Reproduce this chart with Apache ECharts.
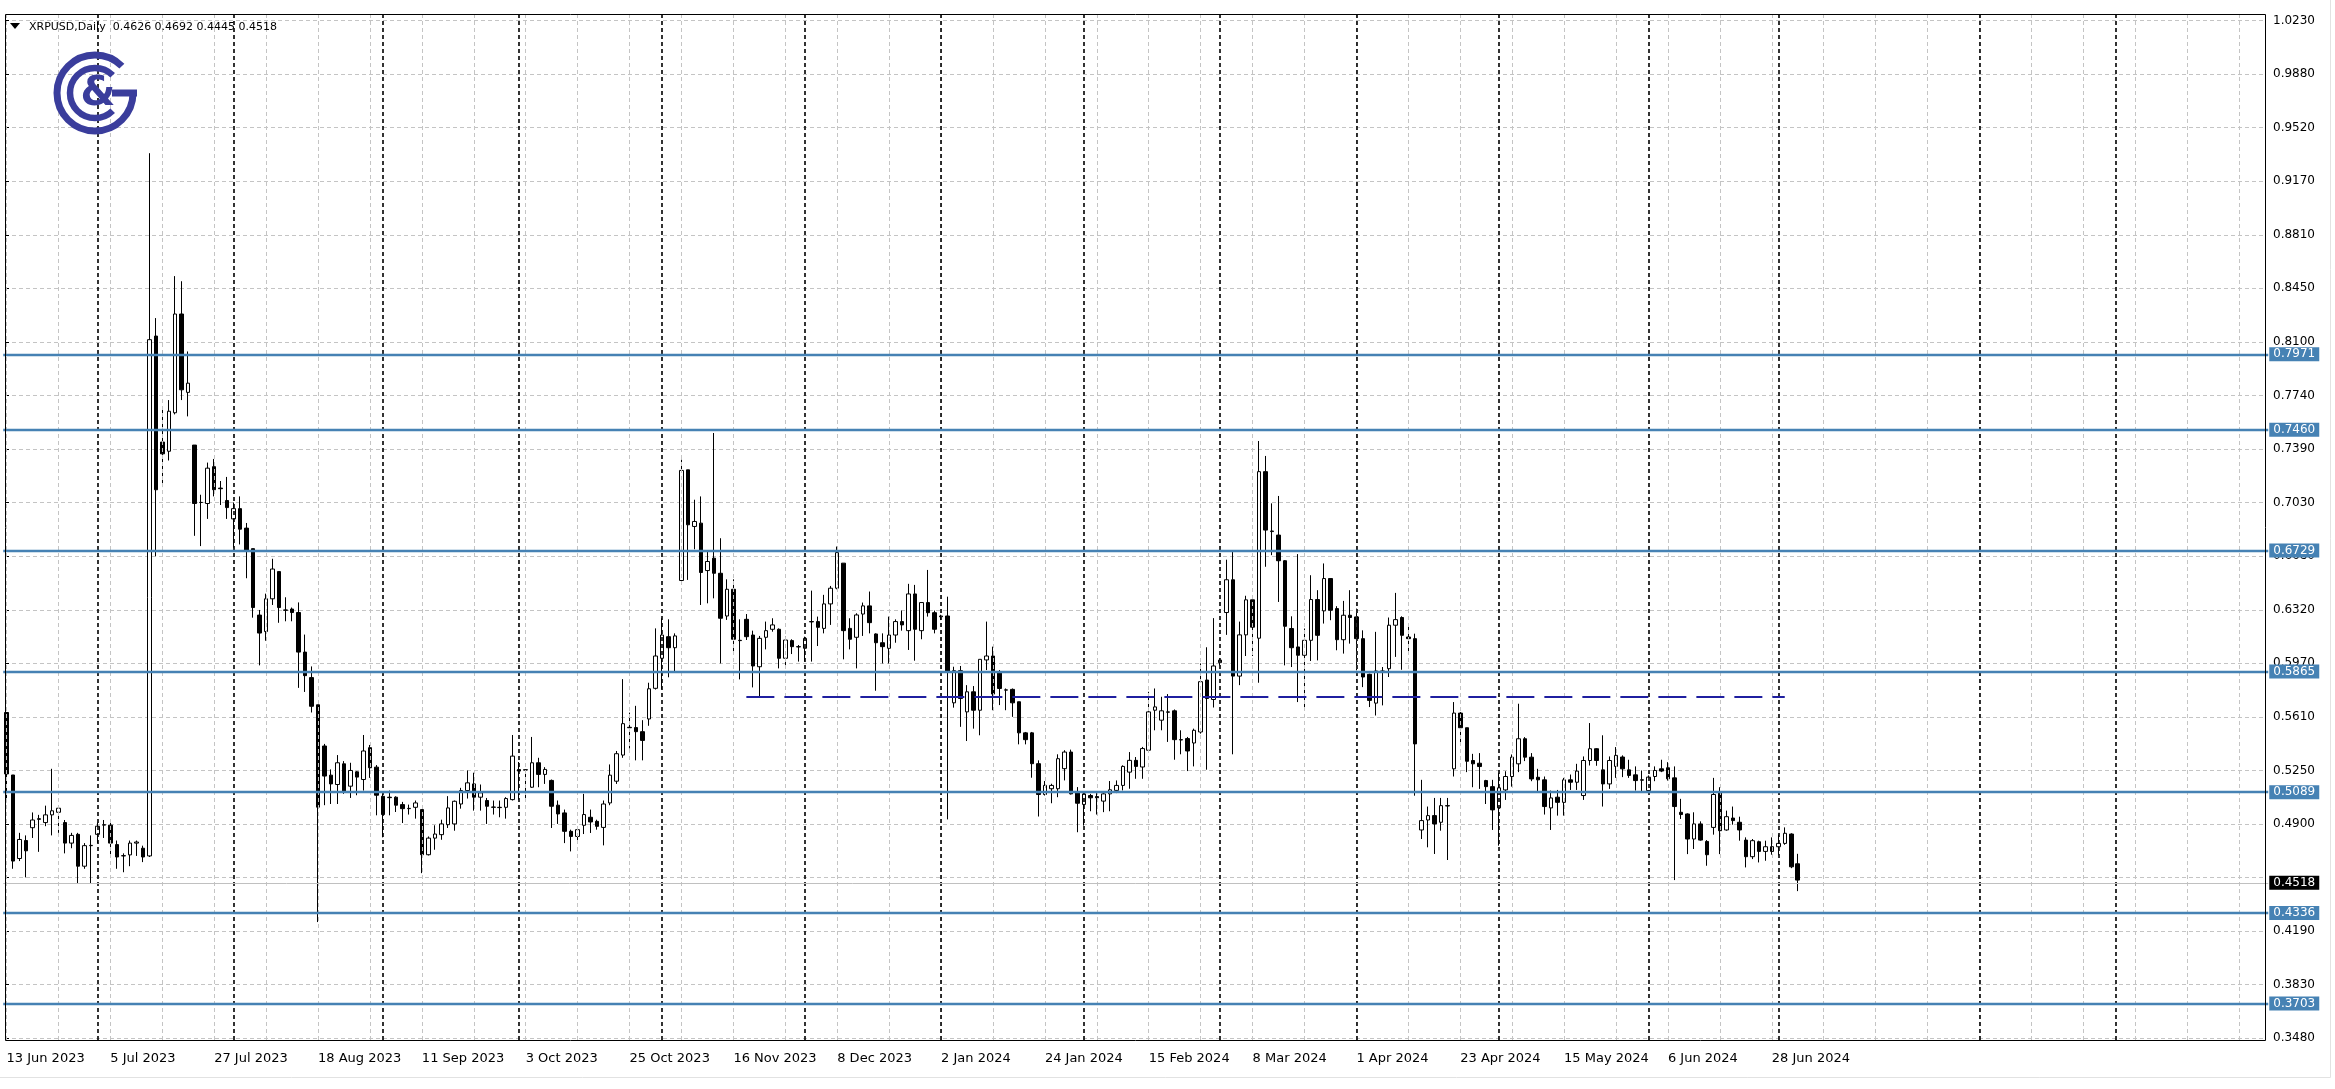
<!DOCTYPE html>
<html><head><meta charset="utf-8">
<script src="https://cdn.jsdelivr.net/npm/echarts@6/dist/echarts.min.js"></script>
<style>html,body{margin:0;padding:0;background:#fff;overflow:hidden}#c{width:2335px;height:1089px}</style>
</head><body><div id="c"></div>
<script>
// ---------- DATA ----------
const symbolName = 'XRPUSD,Daily';
const openP = [0.5628,0.5214,0.4661,0.4780,0.4865,0.4920,0.4899,0.4950,0.4967,0.4899,
0.4763,0.4821,0.4610,0.4746,0.4821,0.4882,0.4882,0.4753,0.4678,0.4685,
0.4763,0.4729,0.4678,0.8121,0.7419,0.7358,0.7613,0.8267,0.7748,0.7399,
0.7019,0.7012,0.7256,0.7114,0.7032,0.6910,0.6978,0.6849,0.6713,0.6273,
0.6164,0.6381,0.6561,0.6307,0.6313,0.6290,0.6028,0.5859,0.5679,0.5406,
0.5213,0.5151,0.5288,0.5140,0.5235,0.5184,0.5395,0.5266,0.5073,0.5067,
0.5067,0.5018,0.4991,0.5000,0.4985,0.4686,0.4796,0.4819,0.4885,0.4890,
0.5022,0.5111,0.5155,0.5067,0.5045,0.5000,0.5000,0.5000,0.5051,0.5250,
0.5247,0.5133,0.5295,0.5218,0.5178,0.5014,0.4963,0.4841,0.4807,0.4881,
0.4934,0.4907,0.4867,0.5029,0.5173,0.5346,0.5530,0.5528,0.5501,0.5585,
0.5788,0.5987,0.6130,0.6057,0.6502,0.7235,0.6860,0.6882,0.6568,0.6650,
0.6550,0.6267,0.6444,0.6106,0.6245,0.6141,0.5931,0.6126,0.6179,0.6179,
0.5987,0.6104,0.6064,0.6053,0.6230,0.6230,0.6185,0.6347,0.6451,0.6617,
0.6185,0.6126,0.6280,0.6334,0.6148,0.6090,0.6053,0.6141,0.6230,0.6170,
0.6413,0.6170,0.6356,0.6289,0.6267,0.6267,0.5692,0.5905,0.5632,0.5765,
0.5643,0.5976,0.6002,0.5891,0.5776,0.5781,0.5699,0.5493,0.5493,0.5289,
0.5085,0.5123,0.5123,0.5256,0.5366,0.5100,0.5019,0.5078,0.5071,0.5041,
0.5089,0.5112,0.5145,0.5233,0.5311,0.5267,0.5378,0.5643,0.5577,0.5632,
0.5639,0.5448,0.5455,0.5426,0.5499,0.5843,0.5714,0.5958,0.6290,0.6507,
0.5869,0.6142,0.6374,0.6120,0.7223,0.6826,0.6803,0.6633,0.6184,0.6062,
0.6007,0.6106,0.6376,0.6301,0.6515,0.6316,0.6110,0.6272,0.6261,0.6117,
0.5881,0.5690,0.5903,0.5918,0.6206,0.6257,0.6128,0.6117,0.4850,0.4916,
0.4945,0.4901,0.5011,0.5255,0.5624,0.5527,0.5310,0.5292,0.5177,0.5137,
0.4996,0.5115,0.5204,0.5288,0.5454,0.5332,0.5199,0.5182,0.4996,0.5067,
0.5033,0.5182,0.5166,0.5078,0.5310,0.5388,0.5248,0.5155,0.5271,0.5333,
0.5248,0.5215,0.5182,0.5111,0.5204,0.5255,0.5262,0.5195,0.4967,0.4956,
0.4790,0.4890,0.4774,0.4867,0.5100,0.4850,0.4929,0.4901,0.4783,0.4673,
0.4772,0.4708,0.4739,0.4739,0.4761,0.4823,0.4626];
const highP = [0.5628,0.5214,0.4831,0.4814,0.4966,0.4950,0.5011,0.5255,0.5011,0.4916,
0.4831,0.4831,0.4763,0.4814,0.4899,0.4916,0.4909,0.4780,0.4695,0.4780,
0.4780,0.4746,0.9332,0.8240,0.7636,0.7697,0.8518,0.8484,0.8019,0.7399,
0.7070,0.7283,0.7307,0.7161,0.7188,0.7019,0.7059,0.6883,0.6713,0.6307,
0.6415,0.6646,0.6561,0.6391,0.6323,0.6357,0.6144,0.5933,0.5679,0.5420,
0.5251,0.5346,0.5306,0.5295,0.5240,0.5479,0.5413,0.5280,0.5089,0.5111,
0.5073,0.5036,0.5018,0.5045,0.4985,0.4807,0.4881,0.4918,0.5074,0.5045,
0.5129,0.5244,0.5229,0.5151,0.5062,0.5045,0.5045,0.5067,0.5479,0.5300,
0.5251,0.5466,0.5328,0.5266,0.5184,0.5045,0.4985,0.4852,0.4863,0.5089,
0.4985,0.4918,0.5045,0.5284,0.5373,0.5849,0.5627,0.5672,0.5577,0.5825,
0.6185,0.6252,0.6245,0.6152,0.7302,0.7235,0.7037,0.7059,0.6694,0.7479,
0.6782,0.6510,0.6510,0.6245,0.6280,0.6170,0.6135,0.6230,0.6252,0.6185,
0.6130,0.6113,0.6075,0.6130,0.6435,0.6263,0.6407,0.6466,0.6727,0.6617,
0.6252,0.6285,0.6356,0.6429,0.6152,0.6152,0.6263,0.6245,0.6303,0.6480,
0.6473,0.6356,0.6572,0.6303,0.6275,0.6395,0.5931,0.5936,0.5809,0.5803,
0.5980,0.6230,0.6064,0.5909,0.5787,0.5787,0.5699,0.5499,0.5499,0.5311,
0.5174,0.5156,0.5351,0.5378,0.5382,0.5134,0.5100,0.5089,0.5094,0.5100,
0.5174,0.5178,0.5278,0.5366,0.5333,0.5400,0.5765,0.5787,0.5732,0.5750,
0.5648,0.5510,0.5466,0.5521,0.5953,0.6060,0.6253,0.5987,0.6640,0.6691,
0.6230,0.6401,0.6374,0.7426,0.7327,0.7013,0.7062,0.6637,0.6265,0.6677,
0.6184,0.6537,0.6438,0.6615,0.6515,0.6332,0.6367,0.6438,0.6316,0.6172,
0.5885,0.6162,0.5929,0.6257,0.6420,0.6265,0.6195,0.6150,0.5182,0.5005,
0.5062,0.5062,0.5062,0.5697,0.5631,0.5527,0.5354,0.5359,0.5182,0.5182,
0.5226,0.5239,0.5350,0.5686,0.5465,0.5359,0.5255,0.5204,0.5111,0.5115,
0.5195,0.5217,0.5288,0.5337,0.5558,0.5392,0.5477,0.5337,0.5399,0.5344,
0.5315,0.5271,0.5244,0.5211,0.5271,0.5315,0.5299,0.5271,0.5056,0.4960,
0.4967,0.4907,0.4783,0.5195,0.5133,0.4978,0.5005,0.4938,0.4801,0.4790,
0.4779,0.4779,0.4801,0.4819,0.4867,0.4828,0.4692];
const lowP = [0.5034,0.4593,0.4644,0.4536,0.4797,0.4705,0.4875,0.4814,0.4831,0.4695,
0.4729,0.4492,0.4593,0.4492,0.4763,0.4797,0.4685,0.4593,0.4570,0.4610,
0.4678,0.4637,0.4671,0.6663,0.7121,0.7297,0.7602,0.7697,0.7589,0.6798,
0.6730,0.6910,0.7059,0.7002,0.6910,0.6720,0.6741,0.6517,0.6256,0.5940,
0.6103,0.6340,0.6222,0.6232,0.6232,0.5791,0.5764,0.5628,0.4240,0.5014,
0.5022,0.5022,0.5089,0.5062,0.5080,0.5111,0.5195,0.4947,0.4801,0.4947,
0.4969,0.4896,0.4952,0.4925,0.4564,0.4681,0.4719,0.4785,0.4863,0.4845,
0.4991,0.5058,0.4978,0.4978,0.4890,0.4952,0.4934,0.4925,0.5045,0.5051,
0.5045,0.5129,0.5133,0.5155,0.4863,0.4890,0.4763,0.4708,0.4763,0.4823,
0.4830,0.4852,0.4748,0.5014,0.5155,0.5328,0.5390,0.5311,0.5311,0.5540,
0.5780,0.5781,0.5861,0.5898,0.6473,0.6506,0.6709,0.6340,0.6351,0.6384,
0.5953,0.6241,0.6020,0.5847,0.6108,0.5794,0.5732,0.6046,0.6163,0.5920,
0.5936,0.6015,0.5965,0.5965,0.5965,0.6068,0.6152,0.6208,0.6444,0.5980,
0.6046,0.5920,0.6135,0.6152,0.5772,0.5953,0.5953,0.6090,0.6170,0.6042,
0.5971,0.6113,0.6263,0.6152,0.6240,0.4920,0.5660,0.5533,0.5439,0.5521,
0.5477,0.5909,0.5643,0.5677,0.5643,0.5599,0.5417,0.5417,0.5196,0.4939,
0.5078,0.5027,0.5067,0.5178,0.5085,0.4835,0.4879,0.4974,0.4952,0.4968,
0.4974,0.5094,0.5112,0.5123,0.5189,0.5189,0.5360,0.5510,0.5510,0.5433,
0.5315,0.5351,0.5240,0.5271,0.5488,0.5249,0.5661,0.5940,0.6142,0.5351,
0.5809,0.6002,0.6002,0.5825,0.6593,0.6670,0.6360,0.5940,0.5929,0.5697,
0.5659,0.5969,0.5973,0.6217,0.6239,0.6040,0.6018,0.6084,0.5907,0.5796,
0.5664,0.5608,0.5675,0.5863,0.5996,0.5911,0.6018,0.5077,0.4790,0.4735,
0.4691,0.4845,0.4651,0.5204,0.5409,0.5233,0.5133,0.5122,0.5022,0.4850,
0.4746,0.5049,0.5137,0.5233,0.5306,0.5173,0.5100,0.4952,0.4850,0.4945,
0.4945,0.5115,0.5115,0.5049,0.5277,0.5275,0.5005,0.5122,0.5195,0.5200,
0.5195,0.5111,0.5100,0.5100,0.5173,0.5233,0.5177,0.4518,0.4923,0.4690,
0.4724,0.4779,0.4613,0.4819,0.4690,0.4845,0.4885,0.4779,0.4602,0.4657,
0.4635,0.4646,0.4686,0.4682,0.4752,0.4597,0.4445];
const closeP = [0.5221,0.4644,0.4787,0.4712,0.4916,0.4925,0.4950,0.4977,0.4994,0.4763,
0.4814,0.4610,0.4746,0.4748,0.4875,0.4885,0.4763,0.4671,0.4680,0.4763,
0.4770,0.4671,0.8097,0.7103,0.7341,0.7623,0.8267,0.7765,0.7809,0.7012,
0.7019,0.7246,0.7103,0.7110,0.6985,0.6978,0.6842,0.6696,0.6323,0.6154,
0.6381,0.6578,0.6323,0.6305,0.6290,0.6028,0.5872,0.5669,0.5001,0.5207,
0.5155,0.5295,0.5102,0.5244,0.5200,0.5373,0.5262,0.5080,0.4952,0.5064,
0.5014,0.4991,0.4993,0.5029,0.4686,0.4796,0.4823,0.4890,0.4996,0.5040,
0.5111,0.5162,0.5067,0.5096,0.5007,0.5002,0.4998,0.5058,0.5339,0.5240,
0.5249,0.5295,0.5218,0.5251,0.5007,0.4956,0.4841,0.4807,0.4852,0.4952,
0.4903,0.4874,0.5022,0.5213,0.5355,0.5554,0.5527,0.5501,0.5443,0.5785,
0.6002,0.6141,0.6057,0.6135,0.7231,0.6871,0.6893,0.6555,0.6628,0.6550,
0.6252,0.6444,0.6113,0.6104,0.6130,0.5936,0.6119,0.6170,0.6208,0.5987,
0.6108,0.6064,0.6062,0.6119,0.6228,0.6192,0.6347,0.6451,0.6687,0.6170,
0.6113,0.6274,0.6334,0.6223,0.6090,0.6064,0.6141,0.6230,0.6208,0.6413,
0.6179,0.6356,0.6289,0.6179,0.6262,0.5898,0.5905,0.5721,0.5765,0.5643,
0.5980,0.6002,0.5750,0.5787,0.5778,0.5692,0.5493,0.5448,0.5289,0.5085,
0.5145,0.5145,0.5322,0.5366,0.5089,0.5027,0.5089,0.5063,0.5063,0.5089,
0.5116,0.5145,0.5271,0.5311,0.5271,0.5389,0.5632,0.5665,0.5639,0.5630,
0.5448,0.5446,0.5373,0.5510,0.5832,0.5721,0.5936,0.5975,0.6507,0.5869,
0.6142,0.6374,0.6193,0.7223,0.6836,0.6830,0.6633,0.6199,0.6057,0.6007,
0.6106,0.6376,0.6139,0.6515,0.6305,0.6110,0.6272,0.6257,0.6117,0.5863,
0.5708,0.5903,0.5900,0.6206,0.6243,0.6139,0.6117,0.5420,0.4912,0.4945,
0.4890,0.5011,0.5009,0.5624,0.5527,0.5305,0.5288,0.5270,0.5137,0.4983,
0.5129,0.5204,0.5332,0.5454,0.5332,0.5188,0.5182,0.5005,0.5062,0.5033,
0.5182,0.5166,0.5240,0.5310,0.5388,0.5310,0.5155,0.5310,0.5344,0.5255,
0.5211,0.5177,0.5180,0.5200,0.5244,0.5240,0.5189,0.5005,0.4952,0.4790,
0.4890,0.4783,0.4686,0.5085,0.4845,0.4938,0.4912,0.4850,0.4673,0.4779,
0.4708,0.4739,0.4708,0.4761,0.4828,0.4606,0.4518];
// support / resistance levels (blue horizontal lines)
const levels = [0.7971, 0.7460, 0.6729, 0.5865, 0.5089, 0.4336, 0.3703];
// dashed trend level: [startBar, endBar, price]
const trendLine = [114, 274, 0.5733];
// price-axis tick labels, top to bottom ('' = hidden under the price label)
const yTickLabels = ['1.0230','0.9880','0.9520','0.9170','0.8810','0.8450','0.8100','0.7740','0.7390','0.7030',
  '0.6680','0.6320','0.5970','0.5610','0.5250','0.4900','','0.4190','0.3830','0.3480'];
// month period separators (bar indices)
const monthSeparators = [14,35,58,79,101,123,144,166,187,208,230,253,273,304,325];
const missingDays = ['2024-01-01'];
const firstDay = [2023, 5, 13];
const labelEvery = 16;
const gridEvery = 8;
const futureSlots = 72;

// ---------- BUILD ----------
const MON = ['Jan','Feb','Mar','Apr','May','Jun','Jul','Aug','Sep','Oct','Nov','Dec'];
const nBars = closeP.length;
const dates = [];
(function(){
  const d = new Date(Date.UTC(firstDay[0], firstDay[1], firstDay[2]));
  while (dates.length < nBars) {
    const wd = d.getUTCDay(); const iso = d.toISOString().slice(0,10);
    if (wd !== 0 && wd !== 6 && missingDays.indexOf(iso) < 0)
      dates.push(d.getUTCDate() + ' ' + MON[d.getUTCMonth()] + ' ' + d.getUTCFullYear());
    d.setUTCDate(d.getUTCDate() + 1);
  }
})();
const cats = dates.slice();
for (let k = 0; k < futureSlots; k++) cats.push('f' + k);
const candles = openP.map((o, i) => [o, closeP[i], lowP[i], highP[i]]);
const lastIdx = nBars - 1;
const bid = closeP[lastIdx];

const FONT = 'DejaVu Sans';
const STEEL = '#4682B4';
const LOGO = '#3a3d9c';
const N = cats.length;            // category slots
const BAND = 6.49;                // px per bar
const GL = 3.255;                 // grid left so that bar 0 sits at x=6.5
const FRAME = {x: 5, y: 14, w: 2260, h: 1026};

const vLines = [];
for (let i = 0; i < N; i += gridEvery) vLines.push({xAxis: i});
const sepLines = monthSeparators.map(i => ({xAxis: i}));

const boxLabel = (txt, bg) => ({show: true, position: 'end', distance: 1, formatter: txt,
    backgroundColor: bg, color: '#fff', fontFamily: FONT, fontSize: 12,
    padding: [2, 4, 0, 4], lineHeight: 12});

const chart = echarts.init(document.getElementById('c'), null, {renderer: 'canvas', width: 2335, height: 1089});
chart.setOption({
  animation: false,
  backgroundColor: '#ffffff',
  grid: [
    {left: GL, top: FRAME.y, width: N * BAND, height: FRAME.h},
    {left: FRAME.x, top: 20.5, width: FRAME.w, bottom: 50.7}
  ],
  xAxis: [
    {type: 'category', gridIndex: 0, data: cats, boundaryGap: true,
     axisLine: {show: false}, axisTick: {show: false}, splitLine: {show: false},
     axisLabel: {interval: (i) => i % labelEvery === 0 && i < nBars, align: 'left',
       margin: 12, color: '#000', fontFamily: FONT, fontSize: 13,
       formatter: (v) => v}},
    {type: 'value', gridIndex: 1, show: false, min: 0, max: 1}
  ],
  yAxis: [
    {type: 'value', gridIndex: 0, min: 0.34590, max: 1.02538, show: false, scale: true,
     splitLine: {show: false}},
    {type: 'value', gridIndex: 1, min: 0, max: yTickLabels.length - 1, interval: 1, position: 'right',
     axisLine: {show: false},
     axisTick: {show: true, length: 4, lineStyle: {color: '#000', width: 1}},
     splitLine: {show: true, lineStyle: {color: '#c4c4c4', type: [4, 3], width: 1}},
     axisLabel: {margin: 8, color: '#000', fontFamily: FONT, fontSize: 12,
       formatter: (v) => yTickLabels[yTickLabels.length - 1 - Math.round(v)]}}
  ],
  series: [
    {type: 'line', xAxisIndex: 0, yAxisIndex: 0, data: [], z: 1, silent: true,
     markLine: {silent: true, symbol: 'none', animation: false, label: {show: false},
       data: [
         ...vLines.map(d => Object.assign({}, d, {lineStyle: {color: '#c4c4c4', type: [4, 3], width: 1}})),
         ...sepLines.map(d => Object.assign({}, d, {lineStyle: {color: '#000', type: [4, 3], width: 1.6}}))
       ]}},
    {type: 'candlestick', xAxisIndex: 0, yAxisIndex: 0, data: candles, z: 3, barWidth: 4,
     itemStyle: {color: '#ffffff', color0: '#000000', borderColor: '#000000', borderColor0: '#000000',
       borderColorDoji: '#000000', borderWidth: 1},
     markLine: {silent: true, symbol: 'none', animation: false,
       data: [
         ...levels.map(v => ({yAxis: v, label: boxLabel(v.toFixed(4), STEEL),
             lineStyle: {color: STEEL, width: 2.4, type: 'solid'}})),
         {yAxis: bid, lineStyle: {color: '#c0c0c0', width: 1, type: 'solid'},
          label: boxLabel(bid.toFixed(4), '#000')},
         [{xAxis: trendLine[0], yAxis: trendLine[2]},
          {xAxis: trendLine[1], yAxis: trendLine[2],
           lineStyle: {color: '#1f1fa0', width: 2, type: [28, 10]}, label: {show: false}}]
       ]}}
  ],
  graphic: [
    {type: 'rect', z: 100, silent: true,
     shape: {x: FRAME.x + 0.5, y: FRAME.y + 0.5, width: FRAME.w, height: FRAME.h},
     style: {fill: null, stroke: '#000', lineWidth: 1}},
    {type: 'line', z: 100, shape: {x1: 2330.5, y1: 0, x2: 2330.5, y2: 1077.5}, style: {stroke: '#e2e2e2', lineWidth: 1}},
    {type: 'line', z: 100, shape: {x1: 0, y1: 1077.5, x2: 2330.5, y2: 1077.5}, style: {stroke: '#e2e2e2', lineWidth: 1}},
    {type: 'polygon', z: 100, shape: {points: [[10, 23], [20, 23], [15, 29]]}, style: {fill: '#000'}},
    {type: 'text', z: 100, x: 29, y: 27,
     style: {text: symbolName + '  ' + [openP[lastIdx], highP[lastIdx], lowP[lastIdx], closeP[lastIdx]].map(v => v.toFixed(4)).join(' '),
       fill: '#000', font: '11px "DejaVu Sans"', verticalAlign: 'middle'}},
    // logo
    {type: 'arc', z: 100, shape: {cx: 95, cy: 93, r: 38, startAngle: 0, endAngle: Math.PI * 2 - Math.PI / 4, clockwise: true},
     style: {stroke: LOGO, lineWidth: 7, fill: null}},
    {type: 'line', z: 100, shape: {x1: 112, y1: 93, x2: 137, y2: 93}, style: {stroke: LOGO, lineWidth: 7}},
    {type: 'arc', z: 100, shape: {cx: 95, cy: 93, r: 25, startAngle: Math.PI / 4, endAngle: Math.PI * 2 - Math.PI / 4, clockwise: true},
     style: {stroke: LOGO, lineWidth: 6.5, fill: null}},
    {type: 'text', z: 100, x: 98, y: 95,
     style: {text: '&', fill: LOGO, font: 'bold 40px "DejaVu Sans"', align: 'center', verticalAlign: 'middle'}}
  ]
});
</script>
</body></html>
